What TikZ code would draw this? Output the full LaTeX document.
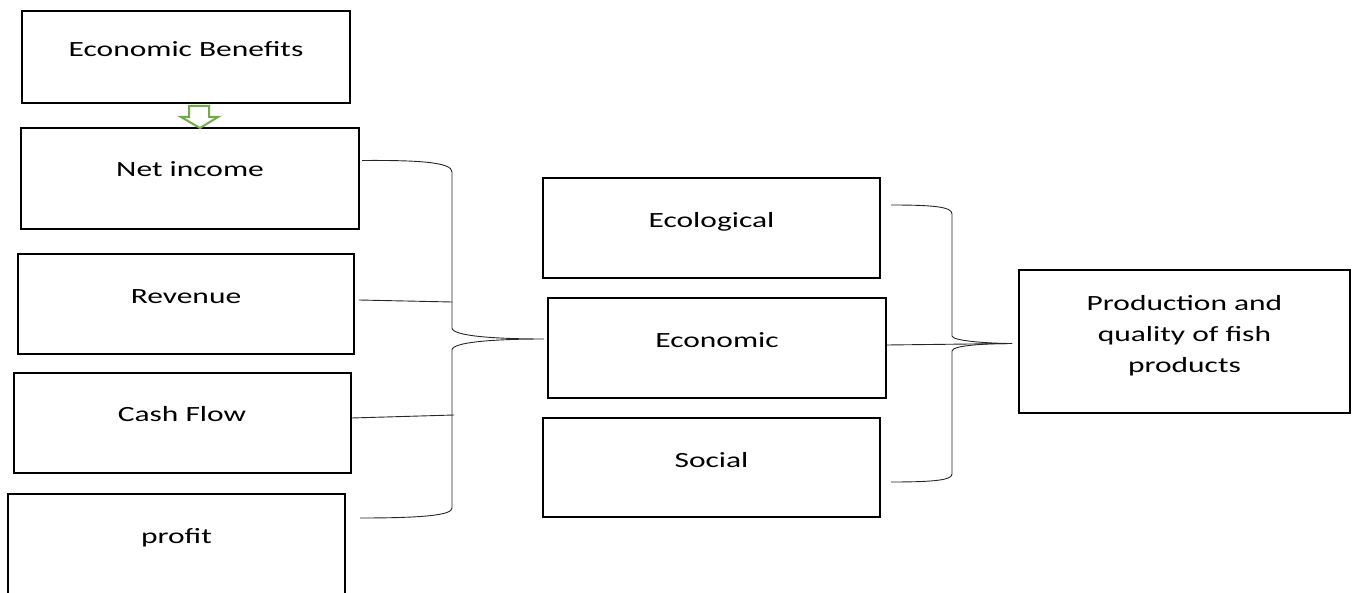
\documentclass[tikz,border=0pt]{standalone}
\usepackage{fontspec}
\setmainfont[FakeStretch=1.45]{Carlito}
\usepackage{tikz}
\usetikzlibrary{positioning,calc}

\definecolor{arrgreen}{HTML}{70AD47}
\tikzset{
  box/.style={draw,line width=2pt,inner sep=0pt},
  txt/.style={anchor=base,inner sep=0pt,font=\fontsize{21.7}{31}\selectfont},
  brace/.style={draw=black!85,line width=0.9pt},
  hollow/.style={draw=arrgreen,line width=2pt,line join=miter}
}

\begin{document}
\begin{tikzpicture}[x=1pt,y=-1pt]
\useasboundingbox (0,0) rectangle (1359,593);
% left column
\node[box,minimum width=328,minimum height=92] (benefits) at (186,57) {};
\node[box,minimum width=338,minimum height=101] (netinc) at (190,178.5) {};
\node[box,minimum width=336,minimum height=100] (revenue) at (186,304) {};
\node[box,minimum width=337,minimum height=100] (cashflow) at (182,423) {};
\node[box,minimum width=337,minimum height=126] (profit) at (176.5,557) {};
\node[txt] (benefits-t) at (benefits.center) {Economic Benefits};
\node[txt] (netinc-t) at ([yshift=1.5pt]netinc.center) {Net income};
\node[txt] (revenue-t) at (revenue.center) {Revenue};
\node[txt] (cashflow-t) at ([yshift=1.5pt]cashflow.center) {Cash Flow};
\node[txt] (profit-t) at ([yshift=14pt]profit.center) {profit};
% middle column
\node[box,minimum width=337,minimum height=100] (ecol) at (711.5,228) {};
\node[box,minimum width=338,minimum height=100] (econ) at (717,348) {};
\node[box,minimum width=337,minimum height=99] (social) at (711.5,467.5) {};
\node[txt] (ecol-t) at (ecol.center) {Ecological};
\node[txt] (econ-t) at (econ.center) {Economic};
\node[txt] (social-t) at (social.center) {Social};
% right box
\node[box,minimum width=331,minimum height=143] (prod) at (1184.5,341.5) {};
\node[txt,anchor=center,align=center] (prod-t) at ([yshift=6pt]prod.center)
  {Production and\\quality of fish\\products};

% arrow between the top two boxes
\draw[hollow] ([xshift=3pt,yshift=-2pt]benefits.south)
  -- ++(20,0) -- ++(0,11) -- ++(9,0) -- ++(-18,11) -- ++(-19,-11)
  -- ++(8,0) -- cycle;

% brace joining the four measures
\coordinate (ltop) at ([yshift=18pt,xshift=2pt]netinc.east);
\coordinate (lbot) at (360,518);
\coordinate (ltip) at ([xshift=-3pt,yshift=9pt]econ.west);
\coordinate (lrev) at (452,302);
\coordinate (lcash) at (454,415);
\draw[brace] (ltop) .. controls (425,160) and (452,163) .. (452,172)
  -- (452,328) .. controls (452,336) and (495,339) .. (ltip)
  .. controls (495,339) and (452,342) .. (452,350)
  -- (452,508) .. controls (452,515) and (425,518) .. (lbot);
\draw[brace] ([shift={(4pt,4pt)}]revenue.east) -- (lrev);
\draw[brace] ([yshift=5pt]cashflow.east) -- (lcash);

% brace joining the three dimensions
\coordinate (rtop) at (891,205);
\coordinate (rbot) at (891,482);
\coordinate (rtip) at ([xshift=-6pt,yshift=-2pt]prod.west);
\draw[brace] (rtop) .. controls (935,205) and (952,207) .. (952,214)
  -- (952,336) .. controls (952,341) and (990,343.5) .. (rtip)
  .. controls (990,343.5) and (952,345) .. (952,351)
  -- (952,474) .. controls (952,480) and (935,482) .. (rbot);
\draw[brace] ([yshift=3pt]econ.east) -- (rtip);
\end{tikzpicture}
\end{document}
